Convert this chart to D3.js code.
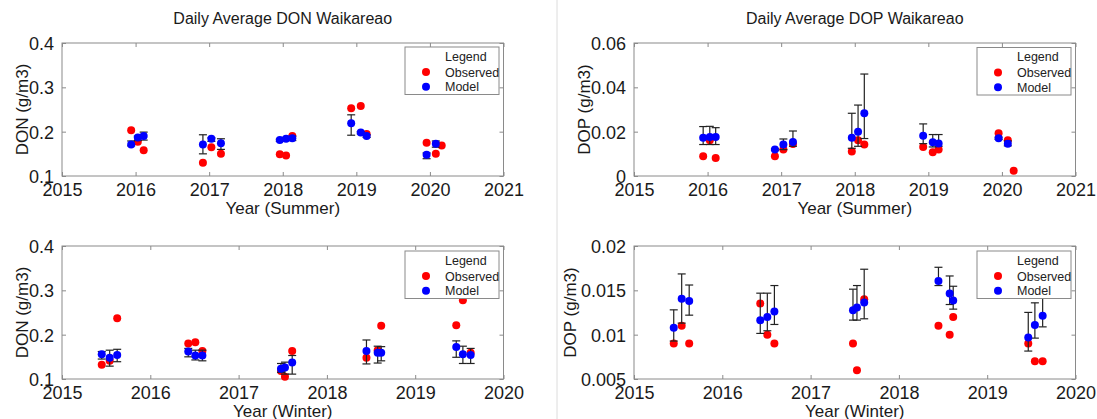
<!DOCTYPE html>
<html>
<head>
<meta charset="utf-8">
<script src="https://cdn.jsdelivr.net/npm/d3@7"></script>
<style>
  html, body { margin: 0; padding: 0; background: #fff; }
  svg { display: block; font-family: "Liberation Sans", Arial, sans-serif; }
</style>
</head>
<body>
<svg id="chart" width="1097" height="419"></svg>
<script>
// Sampling dates (decimal years) for the summer and winter campaigns
const summerDates = [
  2015.94, 2016.03, 2016.11,
  2016.915, 2017.03, 2017.16,
  2017.96, 2018.045, 2018.13,
  2018.93, 2019.06, 2019.14,
  2019.955, 2020.08, 2020.16
];
const winterDates = [
  2015.45, 2015.54, 2015.625,
  2016.43, 2016.51, 2016.59,
  2017.48, 2017.525, 2017.607,
  2018.448, 2018.575, 2018.615,
  2019.465, 2019.54, 2019.628
];

// DON, summer (g/m3)
const donSummerObs   = [0.203, 0.177, 0.158, 0.130, 0.165, 0.150, 0.149, 0.146, 0.190, 0.253, 0.258, 0.195, 0.175, 0.150, 0.169];
const donSummerModel = [0.171, 0.187, 0.190, 0.171, 0.184, 0.174, 0.181, 0.184, 0.185, 0.219, 0.198, 0.190, 0.148, 0.173, null];
const donSummerLow   = [0.168, 0.180, 0.181, 0.150, 0.178, 0.160, 0.178, 0.182, 0.180, 0.192, 0.195, 0.187, 0.139, 0.165, null];
const donSummerHigh  = [0.179, 0.190, 0.199, 0.193, 0.186, 0.184, 0.183, 0.187, 0.190, 0.238, 0.200, 0.193, 0.152, 0.179, null];

// DOP, summer (g/m3)
const dopSummerObs   = [0.0089, 0.0161, 0.0081, 0.0089, 0.0119, 0.0144, 0.0111, 0.0161, 0.0142, 0.0131, 0.0107, 0.0120, 0.0193, 0.0161, 0.0024];
const dopSummerModel = [0.0173, 0.0176, 0.0176, 0.0119, 0.0142, 0.0153, 0.0173, 0.0200, 0.0283, 0.0182, 0.0152, 0.0147, 0.0170, 0.0146, null];
const dopSummerLow   = [0.0142, 0.0142, 0.0142, 0.0115, 0.0119, 0.0134, 0.0125, 0.0134, 0.0169, 0.0146, 0.0131, 0.0134, 0.0165, 0.0136, null];
const dopSummerHigh  = [0.0223, 0.0224, 0.0218, 0.0123, 0.0167, 0.0203, 0.0283, 0.0320, 0.0460, 0.0235, 0.0187, 0.0187, 0.0175, 0.0158, null];

// DON, winter (g/m3)
const donWinterObs   = [0.132, 0.141, 0.237, 0.180, 0.183, 0.163, 0.118, 0.105, 0.163, 0.148, 0.165, 0.220, 0.221, 0.2775, 0.159];
const donWinterModel = [0.156, 0.148, 0.154, 0.162, 0.153, 0.153, 0.123, 0.126, 0.137, 0.163, 0.159, 0.159, 0.172, 0.156, 0.154];
const donWinterLow   = [0.145, 0.129, 0.139, 0.150, 0.143, 0.141, 0.115, 0.111, 0.111, 0.134, 0.136, 0.141, 0.149, 0.135, 0.135];
const donWinterHigh  = [0.162, 0.165, 0.167, 0.169, 0.165, 0.165, 0.135, 0.138, 0.153, 0.188, 0.174, 0.173, 0.186, 0.174, 0.169];

// DOP, winter (g/m3)
const dopWinterObs   = [0.0090, 0.0110, 0.0090, 0.01352, 0.0100, 0.0090, 0.0090, 0.0060, 0.0140, 0.0110, 0.0100, 0.0120, 0.0090, 0.0070, 0.0070];
const dopWinterModel = [0.01077, 0.01404, 0.01381, 0.01164, 0.01198, 0.01262, 0.01276, 0.01307, 0.01363, 0.01606, 0.01464, 0.01386, 0.00969, 0.01108, 0.01212];
const dopWinterLow   = [0.00928, 0.0113, 0.0122, 0.01014, 0.01044, 0.01115, 0.01164, 0.01164, 0.01179, 0.01554, 0.0134, 0.01288, 0.00815, 0.00961, 0.01088];
const dopWinterHigh  = [0.0128, 0.01685, 0.0156, 0.01468, 0.01468, 0.01554, 0.01513, 0.01554, 0.01738, 0.0176, 0.01662, 0.01546, 0.01251, 0.01359, 0.0145];

// Axis ticks and labels
const summerYearTicks = [2015, 2016, 2017, 2018, 2019, 2020, 2021];
const winterYearTicks = [2015, 2016, 2017, 2018, 2019, 2020];
const donTicks = [0.1, 0.2, 0.3, 0.4];
const donTickLabels = ["0.1", "0.2", "0.3", "0.4"];
const dopSummerTicks = [0, 0.02, 0.04, 0.06];
const dopSummerTickLabels = ["0", "0.02", "0.04", "0.06"];
const dopWinterTicks = [0.005, 0.01, 0.015, 0.02];
const dopWinterTickLabels = ["0.005", "0.01", "0.015", "0.02"];

const legendLabels = ["Observed", "Model"];
const seriesColors = ["#ff0000", "#0000ff"];

const svg = d3.select("#chart");
const FRAME = "#8a8a8a";
const INK = "#1a1a1a";

// faint divider between the left and right columns
svg.append("line")
  .attr("x1", 557).attr("x2", 557).attr("y1", 0).attr("y2", 419)
  .attr("stroke", "#dcdcdc").attr("stroke-width", 1);

function panel(cfg) {
  const w = 441.5, h = 133;
  const g = svg.append("g").attr("transform", `translate(${cfg.left},${cfg.top})`);
  const x = d3.scaleLinear().domain(d3.extent(cfg.xTicks)).range([0, w]);
  const y = d3.scaleLinear().domain(d3.extent(cfg.yTicks)).range([h, 0]);

  if (cfg.title) {
    g.append("text").attr("x", w / 2).attr("y", -19)
      .attr("text-anchor", "middle").attr("font-size", 16).attr("fill", INK)
      .text(cfg.title);
  }

  // bottom/top axes with inward ticks, labels only at the bottom
  const xb = g.append("g").attr("transform", `translate(0,${h})`)
    .call(d3.axisBottom(x).tickValues(cfg.xTicks).tickFormat(d3.format("d"))
      .tickSizeInner(-4).tickSizeOuter(0).tickPadding(10));
  const xt = g.append("g")
    .call(d3.axisTop(x).tickValues(cfg.xTicks).tickFormat("").tickSizeInner(-4).tickSizeOuter(0));
  const yl = g.append("g")
    .call(d3.axisLeft(y).tickValues(cfg.yTicks).tickFormat((d, i) => cfg.yLabels[i])
      .tickSizeInner(-4).tickSizeOuter(0).tickPadding(8));
  const yr = g.append("g").attr("transform", `translate(${w},0)`)
    .call(d3.axisRight(y).tickValues(cfg.yTicks).tickFormat("").tickSizeInner(-4).tickSizeOuter(0));
  [xb, xt, yl, yr].forEach(a => {
    a.select(".domain").remove();
    a.selectAll(".tick line").attr("stroke", FRAME);
    a.selectAll("text").attr("font-size", 18).attr("fill", INK)
      .attr("font-family", "Liberation Sans, Arial, sans-serif");
  });
  xb.selectAll("text").attr("dy", "0.71em").attr("y", 7);
  yl.selectAll("text").attr("dy", "0.36em");

  g.append("rect").attr("width", w).attr("height", h)
    .attr("fill", "none").attr("stroke", FRAME).attr("stroke-width", 1);

  // axis titles
  g.append("text").attr("x", w / 2).attr("y", h + 38)
    .attr("text-anchor", "middle").attr("font-size", 17).attr("fill", INK)
    .text(cfg.xTitle);
  g.append("text").attr("transform", `translate(${cfg.yTitleX},${h / 2}) rotate(-90)`)
    .attr("text-anchor", "middle").attr("font-size", 17).attr("fill", INK)
    .text(cfg.yTitle);

  const rows = cfg.dates.map((d, i) => ({
    t: d, obs: cfg.obs[i], mod: cfg.model[i], lo: cfg.low[i], hi: cfg.high[i]
  }));

  // observed points
  g.append("g").selectAll("circle").data(rows.filter(r => r.obs != null)).join("circle")
    .attr("cx", r => x(r.t)).attr("cy", r => y(r.obs)).attr("r", 4)
    .attr("fill", seriesColors[0]);

  // model spread as error bars
  const eb = g.append("g").attr("stroke", "#222").attr("stroke-width", 1.2)
    .selectAll("g").data(rows.filter(r => r.mod != null)).join("g");
  eb.append("line").attr("x1", r => x(r.t)).attr("x2", r => x(r.t))
    .attr("y1", r => y(r.lo)).attr("y2", r => y(r.hi));
  eb.append("line").attr("x1", r => x(r.t) - 4).attr("x2", r => x(r.t) + 4)
    .attr("y1", r => y(r.lo)).attr("y2", r => y(r.lo));
  eb.append("line").attr("x1", r => x(r.t) - 4).attr("x2", r => x(r.t) + 4)
    .attr("y1", r => y(r.hi)).attr("y2", r => y(r.hi));

  // model points
  g.append("g").selectAll("circle").data(rows.filter(r => r.mod != null)).join("circle")
    .attr("cx", r => x(r.t)).attr("cy", r => y(r.mod)).attr("r", 4)
    .attr("fill", seriesColors[1]);

  // legend
  const lg = g.append("g").attr("transform", `translate(${w - 98.5},${cfg.legendTop})`);
  lg.append("rect").attr("width", 94).attr("height", 47.5)
    .attr("fill", "#fff").attr("stroke", FRAME).attr("stroke-width", 1);
  lg.append("text").attr("x", 40).attr("y", 13.5).attr("font-size", 12.5).attr("fill", "#222")
    .text("Legend");
  legendLabels.forEach((lab, i) => {
    lg.append("circle").attr("cx", 21).attr("cy", 25 + i * 14.7).attr("r", 4)
      .attr("fill", seriesColors[i]);
    lg.append("text").attr("x", 40).attr("y", 29.5 + i * 14.7).attr("font-size", 12.5)
      .attr("fill", "#222").text(lab);
  });
}

panel({
  left: 62, top: 43, title: "Daily Average DON Waikareao",
  xTicks: summerYearTicks, yTicks: donTicks, yLabels: donTickLabels,
  xTitle: "Year (Summer)", yTitle: "DON (g/m3)", yTitleX: -34, legendTop: 4,
  dates: summerDates, obs: donSummerObs, model: donSummerModel, low: donSummerLow, high: donSummerHigh
});
panel({
  left: 634, top: 43, title: "Daily Average DOP Waikareao",
  xTicks: summerYearTicks, yTicks: dopSummerTicks, yLabels: dopSummerTickLabels,
  xTitle: "Year (Summer)", yTitle: "DOP (g/m3)", yTitleX: -44, legendTop: 4.5,
  dates: summerDates, obs: dopSummerObs, model: dopSummerModel, low: dopSummerLow, high: dopSummerHigh
});
panel({
  left: 62, top: 246, title: null,
  xTicks: winterYearTicks, yTicks: donTicks, yLabels: donTickLabels,
  xTitle: "Year (Winter)", yTitle: "DON (g/m3)", yTitleX: -34, legendTop: 5,
  dates: winterDates, obs: donWinterObs, model: donWinterModel, low: donWinterLow, high: donWinterHigh
});
panel({
  left: 634, top: 246, title: null,
  xTicks: winterYearTicks, yTicks: dopWinterTicks, yLabels: dopWinterTickLabels,
  xTitle: "Year (Winter)", yTitle: "DOP (g/m3)", yTitleX: -58, legendTop: 5,
  dates: winterDates, obs: dopWinterObs, model: dopWinterModel, low: dopWinterLow, high: dopWinterHigh
});
</script>
</body>
</html>
